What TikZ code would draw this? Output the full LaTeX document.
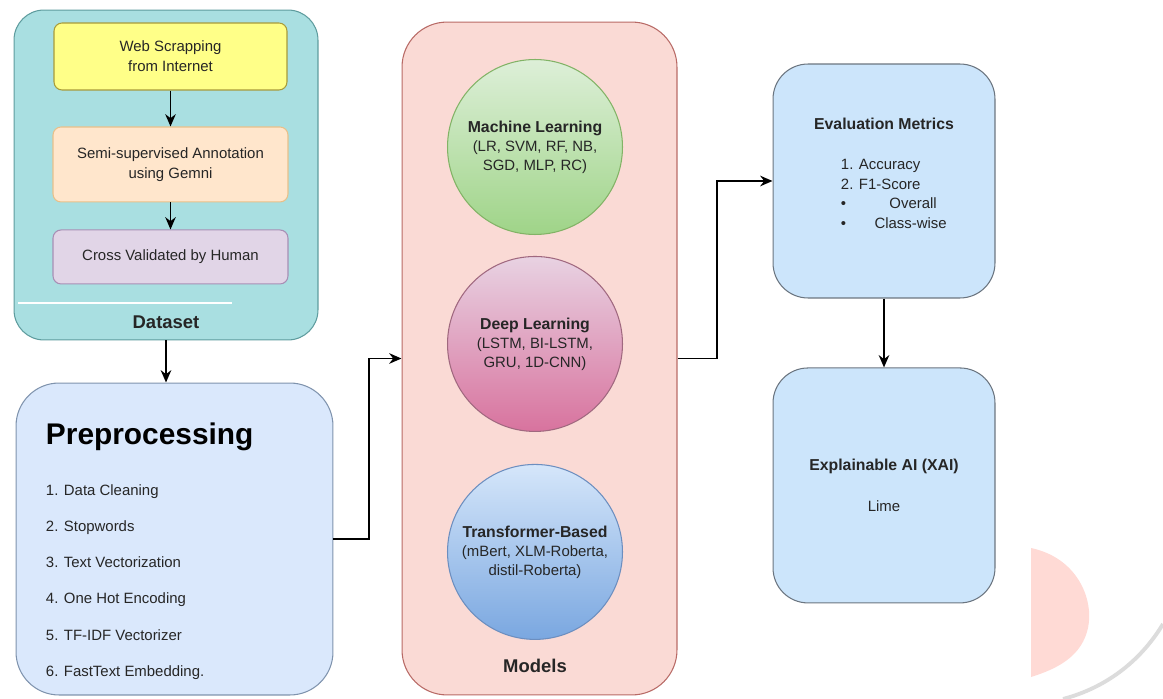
\documentclass[tikz,border=0pt]{standalone}
\usepackage{fontspec}
\setmainfont{Liberation Sans}
\usetikzlibrary{positioning,shadings,arrows.meta}

\definecolor{dsfill}{HTML}{A9DFE1}
\definecolor{dsline}{HTML}{5E9C9E}
\definecolor{webfill}{HTML}{FFFF88}
\definecolor{webline}{HTML}{A89B3A}
\definecolor{semifill}{HTML}{FFE6CC}
\definecolor{semiline}{HTML}{E8C08A}
\definecolor{crossfill}{HTML}{E1D5E7}
\definecolor{crossline}{HTML}{A88FB5}
\definecolor{prepfill}{HTML}{DAE8FC}
\definecolor{prepline}{HTML}{7F93AD}
\definecolor{modfill}{HTML}{FADAD5}
\definecolor{modline}{HTML}{B86A66}
\definecolor{evalfill}{HTML}{CCE5FB}
\definecolor{evalline}{HTML}{6B7580}
\definecolor{mltop}{HTML}{DDEFD8}
\definecolor{mlbot}{HTML}{9FD488}
\definecolor{mlline}{HTML}{82B366}
\definecolor{dltop}{HTML}{E8D2E2}
\definecolor{dlbot}{HTML}{D8739E}
\definecolor{dlline}{HTML}{A0687F}
\definecolor{tbtop}{HTML}{D5E6FA}
\definecolor{tbbot}{HTML}{7AA7E0}
\definecolor{tbline}{HTML}{6C8EBF}
\definecolor{inkgrey}{HTML}{262626}
\definecolor{markpink}{HTML}{FFDAD5}
\definecolor{markgrey}{HTML}{DCDCDC}

\begin{document}
\begin{tikzpicture}[x=0.02cm,y=-0.02cm,->,>={Stealth[length=7pt,width=6pt]},line width=1.1pt,
    big box/.style={draw,line width=0.6pt,inner sep=0pt},
    step box/.style={draw,line width=0.6pt,rounded corners=0.16cm,minimum width=4.7cm,inner sep=0pt,align=center,font=\fontsize{8.5}{11.3}\selectfont,text=inkgrey},
    model node/.style={circle,draw,line width=0.6pt,minimum size=3.5cm,inner sep=0pt,align=center,font=\fontsize{8.5}{10.8}\selectfont,text=inkgrey},
    result box/.style={big box,fill=evalfill,draw=evalline,rounded corners=0.7cm,minimum width=4.44cm,minimum height=4.7cm},
    title text/.style={font=\fontsize{10.5}{12}\selectfont\bfseries,text=inkgrey},
    body text/.style={font=\fontsize{8.5}{11.3}\selectfont,text=inkgrey,inner sep=0pt}]
    \useasboundingbox (0,0) rectangle (1163,699);

    % faint page mark in the corner
    \fill[markpink] (1031,548) .. controls (1078,558) and (1094,600) .. (1088,628) .. controls (1082,655) and (1060,668) .. (1031,677) -- cycle;
    \draw[-,markgrey,line width=2.2pt] (1063,699) .. controls (1105,688) and (1140,662) .. (1163,624);

    % dataset
    \node[big box,fill=dsfill,draw=dsline,rounded corners=0.6cm,minimum width=6.08cm,minimum height=6.6cm] (data) at (166,175) {};
    \node[step box,fill=webfill,draw=webline,minimum width=4.66cm,minimum height=1.34cm] (web) at (170.5,56.5) {Web Scrapping\\from Internet};
    \node[step box,fill=semifill,draw=semiline,minimum height=1.5cm] (semi) [below of=web,node distance=2.16cm] {Semi-supervised Annotation\\using Gemni};
    \node[step box,fill=crossfill,draw=crossline,minimum height=1.08cm] (cross) [below of=semi,node distance=1.85cm] {Cross Validated by Human};
    \draw[-,white,line width=1.2pt] (18,303) -- (232,303);
    \node[title text] (datalabel) at (166,322) {Dataset};

    % preprocessing
    \node[big box,fill=prepfill,draw=prepline,rounded corners=0.86cm,minimum width=6.34cm,minimum height=6.24cm] (prep) at (174.5,539) {};
    \node[font=\fontsize{17}{20}\selectfont\bfseries,anchor=west,inner sep=0pt] (preptitle) at (45,437) {Preprocessing};
    \node[body text,font=\fontsize{8.5}{20.6}\selectfont,anchor=west,align=left] (preplist) at (45,582) {1. Data Cleaning\\2. Stopwords\\3. Text Vectorization\\4. One Hot Encoding\\5. TF-IDF Vectorizer\\6. FastText Embedding.};

    % models
    \node[big box,fill=modfill,draw=modline,rounded corners=0.9cm,minimum width=5.5cm,minimum height=13.46cm] (models) at (539.5,358.5) {};
    \node[model node,top color=mltop,bottom color=mlbot,draw=mlline] (ml) at (535,147) {\textbf{\fontsize{9}{10.8}\selectfont Machine Learning}\\(LR, SVM, RF, NB,\\SGD, MLP, RC)};
    \node[model node,top color=dltop,bottom color=dlbot,draw=dlline] (dl) [below of=ml,node distance=3.94cm] {\textbf{\fontsize{9}{10.8}\selectfont Deep Learning}\\(LSTM, BI-LSTM,\\GRU, 1D-CNN)};
    \node[model node,top color=tbtop,bottom color=tbbot,draw=tbline] (tb) [below of=dl,node distance=4.16cm] {\textbf{\fontsize{9}{10.8}\selectfont Transformer-Based}\\(mBert, XLM-Roberta,\\distil-Roberta)};
    \node[title text] (modlabel) at (535,666) {Models};

    % evaluation and XAI
    \node[result box,minimum height=4.68cm] (eval) at (884,181) {};
    \node[title text,font=\fontsize{9}{11}\selectfont\bfseries] (evaltitle) at (884,124) {Evaluation Metrics};
    \node[body text,anchor=west,align=left] (evallist) at (840,194) {1. Accuracy\\2. F1-Score\\\textbullet\hspace{2.9em}Overall\\\textbullet\hspace{1.9em}Class-wise};
    \node[result box] (xai) [below of=eval,node distance=6.09cm] {};
    \node[title text,font=\fontsize{9}{11}\selectfont\bfseries] (xaititle) at (884,466) {Explainable AI (XAI)};
    \node[body text] (lime) at (884,506) {Lime};

    % connectors
    \coordinate (bendA) at (369,450);
    \coordinate (bendB) at (717,270);
    \path[line width=0.8pt]
        (web) edge (semi)
        (semi) edge (cross);
    \path
        (data.south) edge (data.south |- prep.north)
        (eval) edge (xai);
    \draw (prep.east) -| (bendA) |- (models.west);
    \draw (models.east) -| (bendB) |- (eval.west);
\end{tikzpicture}
\end{document}
